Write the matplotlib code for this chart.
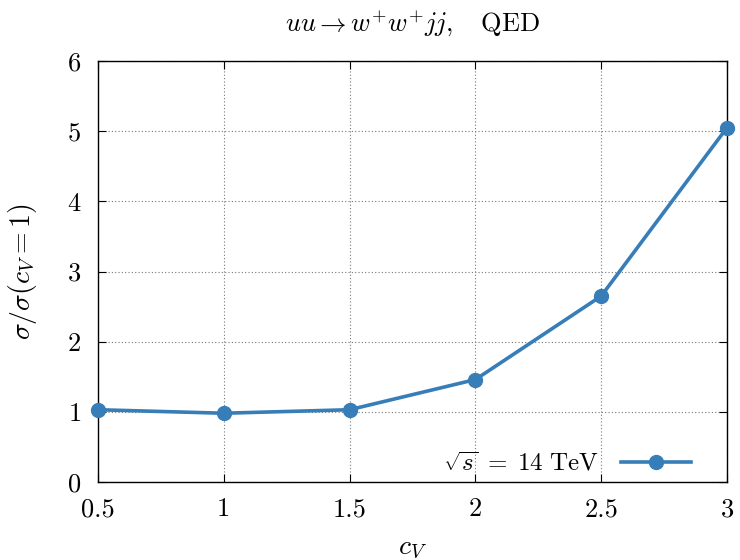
import matplotlib
matplotlib.use('Agg')
import matplotlib.pyplot as plt

plt.rcParams['font.family'] = 'serif'
plt.rcParams['font.serif'] = ['cmr10', 'DejaVu Serif']
plt.rcParams['mathtext.fontset'] = 'cm'
plt.rcParams['axes.formatter.use_mathtext'] = True

cv = [0.5, 1.0, 1.5, 2.0, 2.5, 3.0]
ratio = [1.03, 0.98, 1.03, 1.46, 2.65, 5.05]
xticks = [0.5, 1, 1.5, 2, 2.5, 3]
xticklabels = ['0.5', '1', '1.5', '2', '2.5', '3']
yticks = [0, 1, 2, 3, 4, 5, 6]

fig = plt.figure(figsize=(7.4, 5.6), dpi=100)
ax = fig.add_axes((98/740, 1 - 482/560, 629/740, 421/560))

ax.plot(cv, ratio, color='#377eb8', lw=2.6, marker='o', ms=10,
        label=r'$\sqrt{s}\;=\;14\ \mathrm{TeV}$', clip_on=False, zorder=3)

ax.set_xlim(0.5, 3)
ax.set_ylim(0, 6)
ax.set_xticks(xticks, xticklabels)
ax.set_yticks(yticks)
ax.grid(True, color='#777777', linestyle=(0, (1, 2)), lw=0.8)
ax.tick_params(direction='in', length=6, width=0.8, top=True, right=True,
               labelsize=19)
ax.tick_params(axis='x', pad=11)
ax.tick_params(axis='y', pad=12)
for s in ax.spines.values():
    s.set_linewidth(1.0)

ax.set_title(r'$uu \rightarrow w^{+}w^{+}jj,\quad \mathrm{QED}$', fontsize=19, pad=22)
ax.set_xlabel(r'$c_V$', fontsize=20, labelpad=10)
ax.set_ylabel(r'$\sigma/\sigma(c_V = 1)$', fontsize=20, labelpad=20)

ax.legend(loc='lower right', frameon=False, markerfirst=False, fontsize=18,
          handlelength=2.8, bbox_to_anchor=(0.967, -0.02), borderaxespad=0.2,
          handletextpad=0.9)

fig.savefig('out.png', dpi=100)
